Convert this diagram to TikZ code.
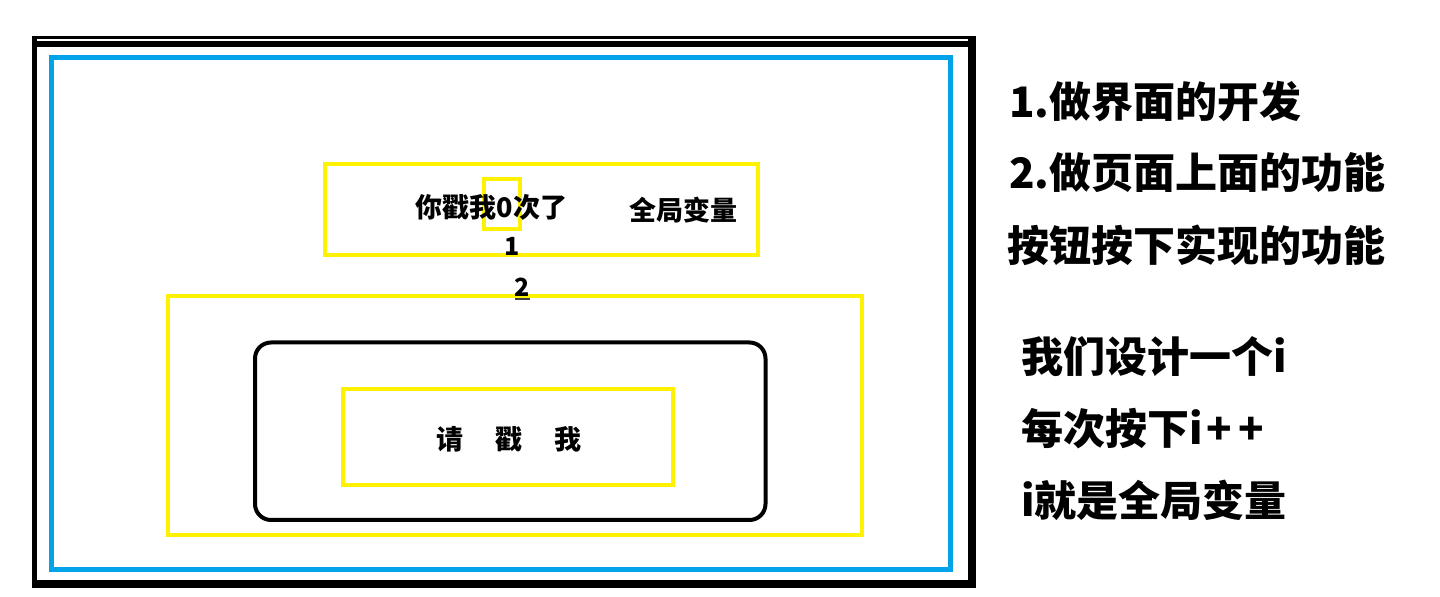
\documentclass[tikz,border=0pt]{standalone}
\usepackage{fontspec}
\setmainfont{Noto Sans CJK SC}
\definecolor{pblue}{HTML}{00A2E8}
\definecolor{pyellow}{HTML}{FFF200}
\tikzset{
  ybox/.style={draw=pyellow, line width=2pt},
  bbox/.style={draw=pblue, line width=2.5pt},
  midtxt/.style={inner sep=0pt, font=\fontsize{13.5pt}{14pt}\selectfont\bfseries},
  numtxt/.style={inner sep=0pt, font=\fontsize{12.5pt}{13pt}\selectfont\bfseries},
  sidetxt/.style={inner sep=0pt, anchor=west, font=\fontsize{21pt}{22pt}\selectfont\bfseries},
}
\begin{document}
\begin{tikzpicture}[x=0.5pt,y=-0.5pt]
\useasboundingbox[fill=white] (0,0) rectangle (1440,597);
% outer black frame
\draw[line width=2.5pt] (34.5,36) -- (34.5,588);
\draw[line width=1.5pt] (32,37.5) -- (976,37.5);
\draw[line width=3pt] (32,44) -- (976,44);
\draw[line width=4pt] (972,36) -- (972,588);
\draw[line width=4pt] (32,584) -- (976,584);
% blue frame
\draw[bbox] (51.5,57.5) rectangle (950,570);
% top yellow box
\draw[ybox] (324.5,164) rectangle (758,255.5);
\draw[ybox] (483.5,179) rectangle (520,229.5);
\node[midtxt] (counter) at (491.5,207) {你戳我0次了};
\node[midtxt] (glob) at (683,210) {全局变量};
\node[numtxt] (one) at (512.5,246) {1};
% bottom yellow box
\draw[ybox] (168,296.5) rectangle (862,535.5);
\node[numtxt] (two) at (522,287) {2};
\draw[line width=1pt, black!75] (515,299.5) -- (530,299.5);
% button
\draw[line width=2pt, rounded corners=8pt] (255,342.5) rectangle (765.5,520);
\draw[ybox] (343,389) rectangle (673,485);
\node[midtxt] (btn) at (509,439) {请\hspace{16pt}戳\hspace{16pt}我};
% right side texts
\node[sidetxt] (t1) at (1009,102) {1.做界面的开发};
\node[sidetxt] (t2) at (1009,173) {2.做页面上面的功能};
\node[sidetxt] (t3) at (1007,245) {按钮按下实现的功能};
\node[sidetxt] (t4) at (1021,357) {我们设计一个i};
\node[sidetxt] (t5) at (1021,429) {每次按下i\hspace{2pt}+\hspace{3pt}+};
\node[sidetxt] (t6) at (1021,500) {i就是全局变量};
\end{tikzpicture}
\end{document}
